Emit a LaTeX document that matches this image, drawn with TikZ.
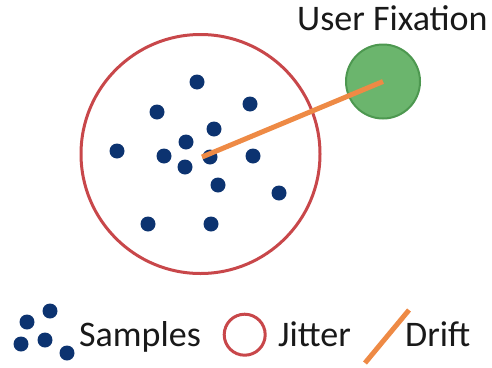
\documentclass[tikz,border=0pt]{standalone}
\usepackage{fontspec}
\setmainfont{Carlito}
\definecolor{sampleblue}{RGB}{12,51,112}
\definecolor{jitterred}{RGB}{200,71,74}
\definecolor{driftorange}{RGB}{238,138,69}
\definecolor{fixgreen}{RGB}{107,181,109}
\definecolor{fixborder}{RGB}{77,152,80}

\begin{document}
\begin{tikzpicture}[x=1pt, y=-1pt,
    sample/.style={fill=sampleblue},
    jitter/.style={draw=jitterred, line width=3pt},
    drift/.style={draw=driftorange, line width=5pt},
    legendtext/.style={font=\fontsize{36}{40}\selectfont, text=black!90, anchor=base west, inner sep=0pt}]
\useasboundingbox (0,0) rectangle (492,367);
%% jitter circle with the samples inside
    \draw[jitter] (200.5,154) circle[radius=119.5];
    \foreach \x/\y in {197/82, 157/112, 250/104, 214/129, 186/142, 117/151, 164/156,
                       210/157, 253/156, 185/167, 218/185, 279/193, 148/224, 211/224}
        \fill[sample] (\x,\y) circle[radius=7.5];
%% fixation point and drift
    \node[circle, fill=fixgreen, draw=fixborder, line width=2pt, minimum size=74pt, inner sep=0pt] (fix) at (383,81.5) {};
    \node[legendtext] (fixlabel) at (297,30) {User Fixation};
    \coordinate (start) at (202,157);
    \draw[drift] (start) -- (fix.center);
%% legend
    \foreach \x/\y in {50/311, 27/322, 45/340, 21/344, 67/353}
        \fill[sample] (\x,\y) circle[radius=7.5];
    \node[legendtext] (samples) at (79,346) {Samples};
    \draw[jitter] (244.7,334.7) circle[radius=20.5];
    \node[legendtext] (jittertext) at (278,346) {Jitter};
    \draw[drift] (365,363) -- (409,310);
    \node[legendtext] (drifttext) at (405,346) {Drift};
\end{tikzpicture}
\end{document}
